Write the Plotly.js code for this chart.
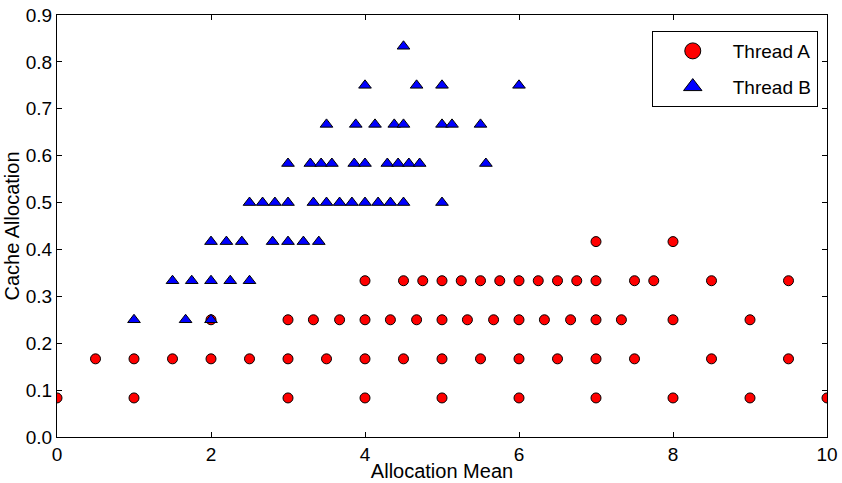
<!DOCTYPE html>
<html>
<head>
<meta charset="utf-8">
<script src="https://cdn.plot.ly/plotly-3.0.1.min.js"></script>
<style>
html,body{margin:0;padding:0;background:#fff;}
#chart{width:842px;height:483px;}
</style>
</head>
<body>
<div id="chart"></div>
<script>
// Thread A (red circles)
const threadA_x = [
  0, 1, 3, 4, 5, 6, 7, 8, 9, 10,
  0.5, 1, 1.5, 2, 2.5, 3, 3.5, 4, 4.5, 5, 5.5, 6, 6.5, 7, 7.5, 8.5, 9.5,
  2, 3, 3.33, 3.67, 4, 4.33, 4.67, 5, 5.33, 5.67, 6, 6.33, 6.67, 7, 7.33, 8, 9,
  4, 4.5, 4.75, 5, 5.25, 5.5, 5.75, 6, 6.25, 6.5, 6.75, 7, 7.5, 7.75, 8.5, 9.5,
  7, 8
];
const threadA_y = [
  0.0833, 0.0833, 0.0833, 0.0833, 0.0833, 0.0833, 0.0833, 0.0833, 0.0833, 0.0833,
  0.1667, 0.1667, 0.1667, 0.1667, 0.1667, 0.1667, 0.1667, 0.1667, 0.1667, 0.1667, 0.1667, 0.1667, 0.1667, 0.1667, 0.1667, 0.1667, 0.1667,
  0.25, 0.25, 0.25, 0.25, 0.25, 0.25, 0.25, 0.25, 0.25, 0.25, 0.25, 0.25, 0.25, 0.25, 0.25, 0.25, 0.25,
  0.3333, 0.3333, 0.3333, 0.3333, 0.3333, 0.3333, 0.3333, 0.3333, 0.3333, 0.3333, 0.3333, 0.3333, 0.3333, 0.3333, 0.3333, 0.3333,
  0.4167, 0.4167
];
// Thread B (blue triangles)
const threadB_x = [
  1, 1.67, 2,
  1.5, 1.75, 2, 2.25, 2.5,
  2, 2.2, 2.4, 2.8, 3, 3.2, 3.4,
  2.5, 2.67, 2.83, 3, 3.33, 3.5, 3.67, 3.83, 4, 4.17, 4.33, 4.5, 5,
  3, 3.29, 3.43, 3.57, 3.86, 4, 4.29, 4.43, 4.57, 4.71, 5.57,
  3.5, 3.88, 4.13, 4.38, 4.5, 5, 5.13, 5.5,
  4, 4.67, 5, 6,
  4.5
];
const threadB_y = [
  0.25, 0.25, 0.25,
  0.3333, 0.3333, 0.3333, 0.3333, 0.3333,
  0.4167, 0.4167, 0.4167, 0.4167, 0.4167, 0.4167, 0.4167,
  0.5, 0.5, 0.5, 0.5, 0.5, 0.5, 0.5, 0.5, 0.5, 0.5, 0.5, 0.5, 0.5,
  0.5833, 0.5833, 0.5833, 0.5833, 0.5833, 0.5833, 0.5833, 0.5833, 0.5833, 0.5833, 0.5833,
  0.6667, 0.6667, 0.6667, 0.6667, 0.6667, 0.6667, 0.6667, 0.6667,
  0.75, 0.75, 0.75, 0.75,
  0.8333
];
const seriesNames = ["Thread A", "Thread B"];
const xTitle = "Allocation Mean";
const yTitle = "Cache Allocation";

const FONT = "'Liberation Sans', Arial, sans-serif";

const markerA = {symbol: "circle", color: "#ff0000", line: {color: "#000", width: 1}};
const markerB = {symbol: "triangle-up", color: "#0000ff", line: {color: "#000", width: 1}};

const traces = [
  {
    type: "scatter", mode: "markers", name: seriesNames[0], legendgroup: "a", showlegend: false,
    x: threadA_x, y: threadA_y,
    marker: Object.assign({size: 10}, markerA), cliponaxis: true
  },
  {
    type: "scatter", mode: "markers", name: seriesNames[1], legendgroup: "b", showlegend: false,
    x: threadB_x, y: threadB_y,
    marker: Object.assign({size: 11}, markerB), cliponaxis: true
  },
  // legend entries (larger symbols, like the reference legend)
  {
    type: "scatter", mode: "markers", name: seriesNames[0], legendgroup: "a",
    x: [null], y: [null], marker: Object.assign({size: 16}, markerA)
  },
  {
    type: "scatter", mode: "markers", name: seriesNames[1], legendgroup: "b",
    x: [null], y: [null], marker: Object.assign({size: 16}, markerB)
  }
];

const axisCommon = {
  showline: true, linecolor: "#000", linewidth: 1, mirror: "ticks",
  ticks: "inside", ticklen: 5, tickcolor: "#000", tickwidth: 1,
  showgrid: false, zeroline: false,
  tickfont: {family: FONT, size: 19, color: "#000"}
};

const layout = {
  width: 842, height: 483,
  margin: {l: 57, r: 15, t: 15, b: 46},
  paper_bgcolor: "#fff", plot_bgcolor: "#fff",
  font: {family: FONT, color: "#000"},
  showlegend: true,
  xaxis: Object.assign({}, axisCommon, {
    range: [0, 10], dtick: 2, tick0: 0,
    title: {text: xTitle, font: {family: FONT, size: 20, color: "#000"}, standoff: 0}
  }),
  yaxis: Object.assign({}, axisCommon, {
    range: [0, 0.9], dtick: 0.1, tick0: 0, tickformat: ".1f",
    title: {text: yTitle, font: {family: FONT, size: 20, color: "#000"}, standoff: 0}
  }),
  legend: {
    x: 0.988, y: 0.962, xanchor: "right", yanchor: "top",
    bordercolor: "#000", borderwidth: 1, bgcolor: "#fff",
    font: {family: FONT, size: 19, color: "#000"},
    itemsizing: "trace", itemwidth: 70, tracegroupgap: 8
  }
};

Plotly.newPlot("chart", traces, layout, {displayModeBar: false, staticPlot: true});
</script>
</body>
</html>
